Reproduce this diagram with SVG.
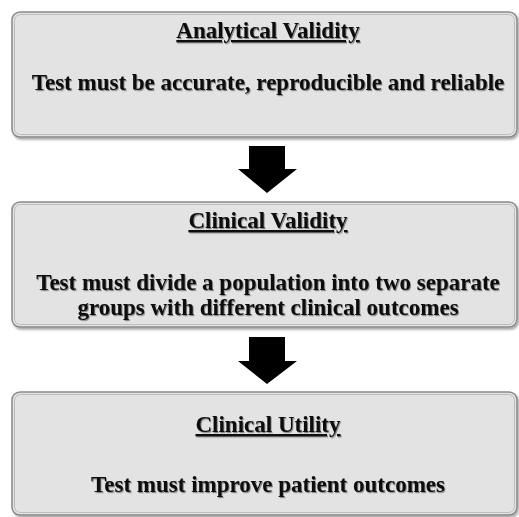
<svg xmlns="http://www.w3.org/2000/svg" width="519" height="517" viewBox="0 0 519 517">
  <style>
    .box { fill: #e3e3e3; stroke: #8a8a8a; stroke-width: 1.5; filter: url(#boxShadow); }
    .inner { fill: none; stroke: #bdbdbd; stroke-width: 1; }
    .title { font-family: "Liberation Serif", "Times New Roman", serif; font-weight: bold; font-size: 23px; text-anchor: middle; text-decoration: underline; fill: #0a0a0a; filter: url(#textShadow); }
    .body { font-family: "Liberation Serif", "Times New Roman", serif; font-weight: bold; font-size: 23px; text-anchor: middle; fill: #0a0a0a; filter: url(#textShadow); }
    .arrow { fill: #000; }
  </style>
  <defs>
    <filter id="boxShadow" x="-5%" y="-10%" width="110%" height="125%">
      <feDropShadow dx="1.5" dy="2" stdDeviation="1.2" flood-color="#000" flood-opacity="0.35"/>
    </filter>
    <filter id="textShadow" x="-5%" y="-30%" width="110%" height="160%">
      <feDropShadow dx="1" dy="1.2" stdDeviation="0.6" flood-color="#000" flood-opacity="0.4"/>
    </filter>
  </defs>
  <rect width="519" height="517" fill="#fff"/>

  <g id="analytical-validity">
    <rect class="box" x="12" y="12" width="505" height="125" rx="8"/>
    <rect class="inner" x="14.5" y="14.5" width="500" height="120" rx="6"/>
    <text class="title" x="268" y="38">Analytical Validity</text>
    <text class="body" x="268" y="90">Test must be accurate, reproducible and reliable</text>
  </g>

  <g id="clinical-validity">
    <rect class="box" x="12" y="202" width="505" height="125" rx="8"/>
    <rect class="inner" x="14.5" y="204.5" width="500" height="120" rx="6"/>
    <text class="title" x="268" y="228">Clinical Validity</text>
    <text class="body" x="268" y="290">Test must divide a population into two separate</text>
    <text class="body" x="268" y="315">groups with different clinical outcomes</text>
  </g>

  <g id="clinical-utility">
    <rect class="box" x="12" y="392" width="505" height="123" rx="8"/>
    <rect class="inner" x="14.5" y="394.5" width="500" height="118" rx="6"/>
    <text class="title" x="268" y="432">Clinical Utility</text>
    <text class="body" x="268" y="492">Test must improve patient outcomes</text>
  </g>

  <g id="connectors">
    <polygon class="arrow" points="249,146 285,146 285,169 297,169 267,193 238,169 249,169"/>
    <polygon class="arrow" points="249,337 285,337 285,361 297,361 267,384 238,361 249,361"/>
  </g>
</svg>
